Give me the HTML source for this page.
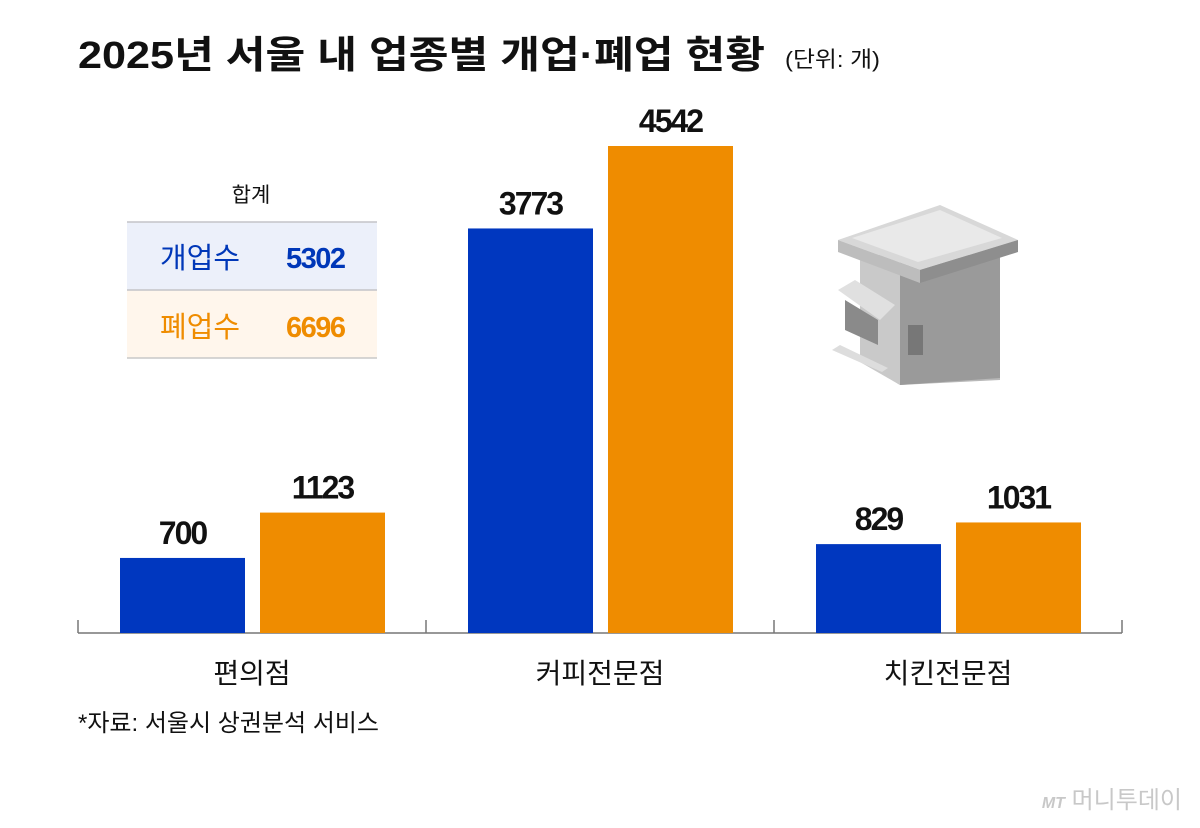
<!DOCTYPE html>
<html><head><meta charset="utf-8"><style>
body{margin:0;background:#fff;}
svg text{font-family:"Liberation Sans","Noto Sans CJK KR",sans-serif;}
</style></head><body>
<svg width="1200" height="823" viewBox="0 0 1200 823" xmlns="http://www.w3.org/2000/svg">
<text x="78" y="68" font-size="38" font-weight="bold" fill="#111" textLength="687" lengthAdjust="spacingAndGlyphs">2025년 서울 내 업종별 개업·폐업 현황</text>
<text x="785" y="67" font-size="22" fill="#111" textLength="95" lengthAdjust="spacingAndGlyphs">(단위: 개)</text>

<g>
<text x="251" y="202" font-size="21" text-anchor="middle" fill="#111">합계</text>
<rect x="127" y="222" width="250" height="68" fill="#ecf0fa"/>
<rect x="127" y="290" width="250" height="68" fill="#fff6ec"/>
<line x1="127" y1="222" x2="377" y2="222" stroke="#c4c4c8" stroke-width="1.5"/>
<line x1="127" y1="290" x2="377" y2="290" stroke="#c4c4c8" stroke-width="1.5"/>
<line x1="127" y1="358" x2="377" y2="358" stroke="#c8c8c8" stroke-width="1.5"/>
<text x="160" y="268" font-size="29" fill="#0037b8">개업수</text>
<text x="286" y="268" font-size="29" font-weight="bold" fill="#0037b8" letter-spacing="-1.5">5302</text>
<text x="160" y="337" font-size="29" fill="#ef8c00">폐업수</text>
<text x="286" y="337" font-size="29" font-weight="bold" fill="#ef8c00" letter-spacing="-1.5">6696</text>
</g>

<g>
<polygon points="860,255 1000,255 1000,380 900,385 860,360" fill="#b8b8b8"/>
<polygon points="900,262 1000,255 1000,378 900,385" fill="#9a9a9a"/>
<polygon points="860,255 900,262 900,385 860,362" fill="#c9c9c9"/>
<polygon points="838,240 940,205 1018,240 920,270" fill="#d8d8d8"/>
<polygon points="852,238 940,210 1002,238 918,262" fill="#e9e9e9"/>
<polygon points="838,240 920,270 920,283 838,252" fill="#bdbdbd"/>
<polygon points="920,270 1018,240 1018,252 920,283" fill="#8e8e8e"/>
<polygon points="838,290 855,280 895,305 880,320" fill="#e0e0e0"/>
<polygon points="845,300 878,320 878,345 845,330" fill="#8a8a8a"/>
<rect x="908" y="325" width="15" height="30" fill="#777"/>
<polygon points="832,350 882,372 888,368 840,345" fill="#ddd"/>
</g>

<line x1="78" y1="633" x2="1122" y2="633" stroke="#777" stroke-width="1.5"/>
<g id="bars"></g>
<text x="78" y="731" font-size="24" fill="#111">*자료: 서울시 상권분석 서비스</text>
<text x="1182" y="808" font-size="24" fill="#c8c8c8" text-anchor="end"><tspan font-size="16" font-style="italic" font-weight="bold">MT</tspan> 머니투데이</text>
</svg>
<script>
const categories=["편의점","커피전문점","치킨전문점"];
const openValues=[700,3773,829];
const closeValues=[1123,4542,1031];
const ns="http://www.w3.org/2000/svg";
const g=document.getElementById('bars');
const base=633, scale=487/4542;
const y=v=>base-v*scale;
function mk(t,a){const e=document.createElementNS(ns,t);for(const k in a)e.setAttribute(k,a[k]);g.appendChild(e);return e;}
categories.forEach((c,i)=>{
  const x0=78+i*348;
  const tk=mk('line',{x1:x0,y1:620,x2:x0,y2:633,stroke:'#777','stroke-width':1.5});
  
  
  [[openValues[i],'#0037bf',42,'open'],[closeValues[i],'#ef8c00',182,'close']].forEach(([v,col,off,nm])=>{
    const r=mk('rect',{x:x0+off,y:y(v),width:125,height:v*scale,fill:col});
    
    
    const t=mk('text',{x:x0+off+62.5,y:y(v)-14,'font-size':32,'font-weight':'bold','text-anchor':'middle',fill:'#111','letter-spacing':'-2'});
    t.textContent=v;
    
    
  });
  const l=mk('text',{x:x0+174,y:683,'font-size':28,'text-anchor':'middle',fill:'#111'});
  l.textContent=c;
  
  
});
const t2=mk('line',{x1:1122,y1:620,x2:1122,y2:633,stroke:'#777','stroke-width':1.5});


</script>
</body></html>
